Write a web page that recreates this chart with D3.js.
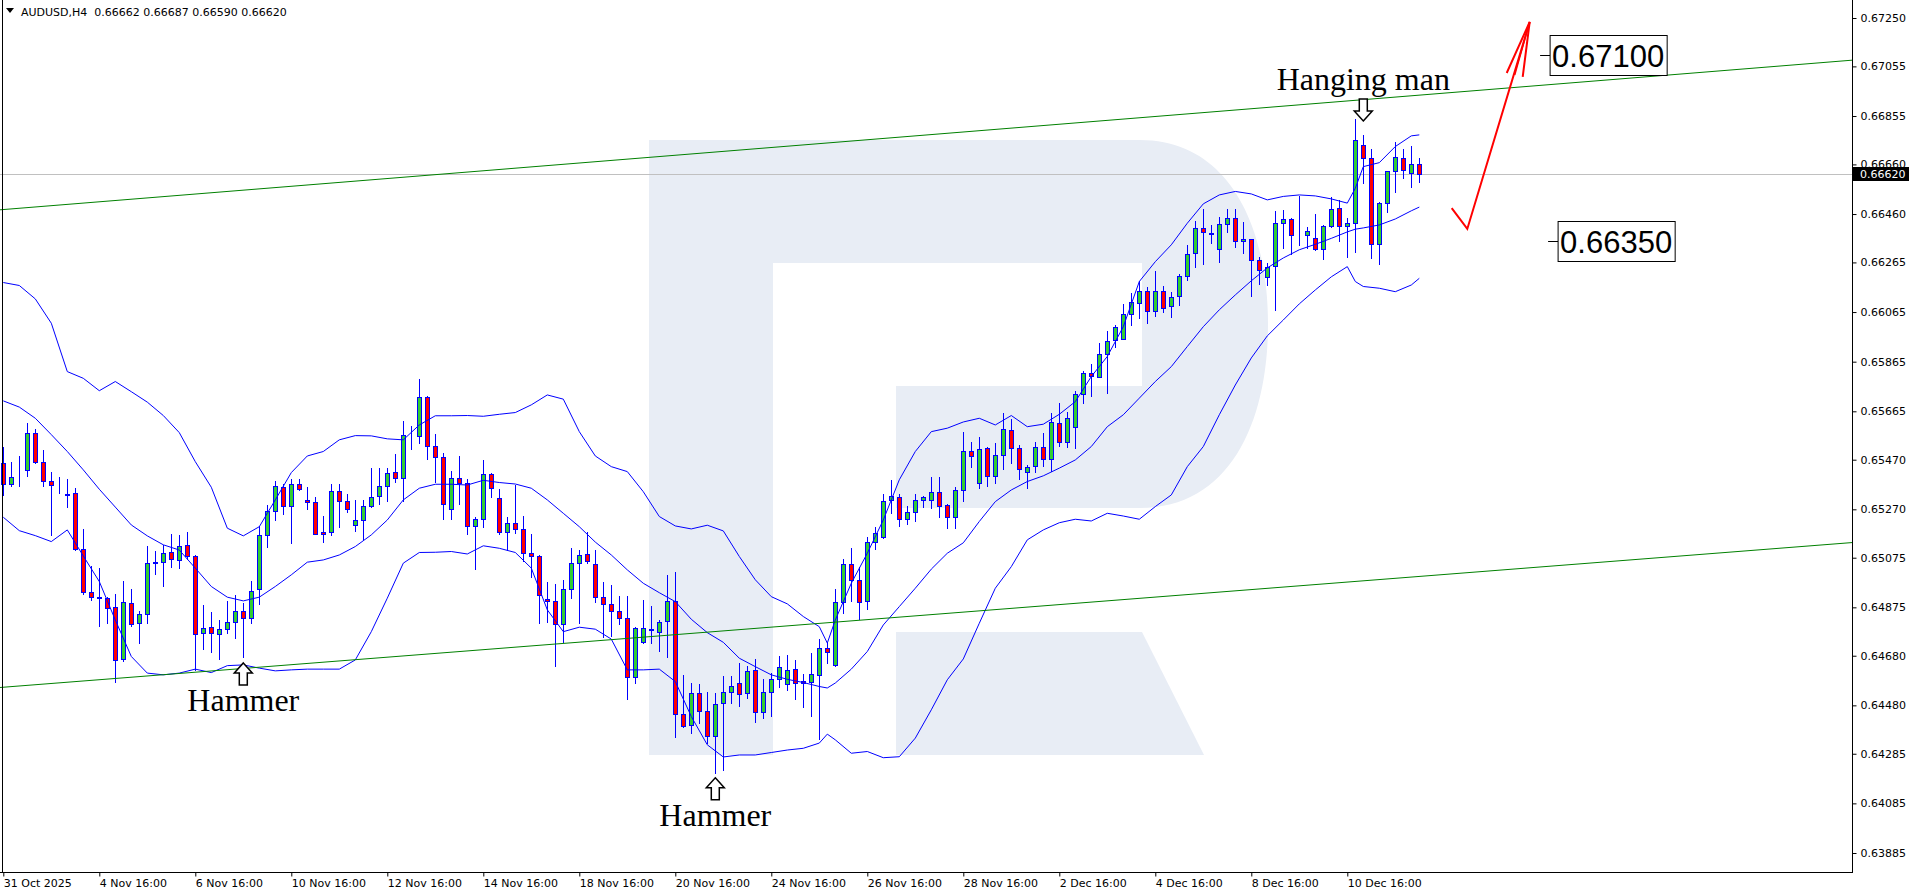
<!DOCTYPE html>
<html><head><meta charset="utf-8">
<script src="https://cdnjs.cloudflare.com/ajax/libs/d3/7.8.5/d3.min.js"></script>
<style>
html,body{margin:0;padding:0;background:#fff;overflow:hidden}
svg{display:block}
text{white-space:pre}
</style></head><body>
<svg id="c" width="1916" height="896"></svg>
<script>
// ---------------- DATA ----------------
const symbolTitle = "AUDUSD,H4  0.66662 0.66687 0.66590 0.66620";
const open = [0.65456,0.65371,0.65427,0.65428,0.65577,0.65460,0.65383,0.65370,0.65330,0.65335,0.65109,0.64938,0.64915,0.64912,0.64876,0.64666,0.64892,0.64810,0.64847,0.65054,0.65057,0.65097,0.65066,0.65125,0.65082,0.64771,0.64795,0.64767,0.64787,0.64815,0.64862,0.64831,0.64948,0.65167,0.65264,0.65360,0.65284,0.65371,0.65308,0.65299,0.65178,0.65178,0.65343,0.65303,0.65206,0.65226,0.65283,0.65323,0.65363,0.65420,0.65395,0.65565,0.65565,0.65722,0.65524,0.65480,0.65270,0.65395,0.65375,0.65203,0.65230,0.65412,0.65315,0.65178,0.65216,0.65190,0.65093,0.65083,0.64910,0.64900,0.64807,0.64948,0.65053,0.65089,0.65049,0.64916,0.64888,0.64859,0.64831,0.64593,0.64734,0.64784,0.64777,0.64819,0.64900,0.64446,0.64401,0.64529,0.64456,0.64357,0.64489,0.64535,0.64569,0.64529,0.64622,0.64455,0.64533,0.64585,0.64565,0.64626,0.64577,0.64576,0.64602,0.64710,0.64642,0.64896,0.65049,0.64984,0.64900,0.65138,0.65158,0.65307,0.65321,0.65230,0.65258,0.65307,0.65307,0.65339,0.65287,0.65238,0.65348,0.65504,0.65375,0.65516,0.65406,0.65488,0.65589,0.65516,0.65420,0.65445,0.65520,0.65472,0.65617,0.65540,0.65603,0.65734,0.65819,0.65805,0.65895,0.65952,0.65956,0.66056,0.66101,0.66149,0.66068,0.66149,0.66089,0.66129,0.66210,0.66302,0.66403,0.66385,0.66318,0.66419,0.66443,0.66352,0.66359,0.66274,0.66205,0.66251,0.66423,0.66439,0.66375,0.66375,0.66363,0.66318,0.66411,0.66484,0.66411,0.66423,0.66739,0.66685,0.66339,0.66504,0.66633,0.66685,0.66625,0.66662];
const high = [0.65520,0.65460,0.65485,0.65618,0.65593,0.65510,0.65421,0.65399,0.65391,0.65355,0.65191,0.65042,0.65035,0.64918,0.64929,0.64982,0.64949,0.64862,0.65123,0.65102,0.65127,0.65171,0.65167,0.65178,0.65086,0.64885,0.64858,0.64824,0.64901,0.64925,0.64894,0.64983,0.65203,0.65288,0.65385,0.65372,0.65391,0.65393,0.65360,0.65321,0.65243,0.65371,0.65371,0.65331,0.65308,0.65308,0.65438,0.65438,0.65438,0.65493,0.65626,0.65607,0.65796,0.65727,0.65574,0.65496,0.65425,0.65484,0.65391,0.65241,0.65469,0.65418,0.65351,0.65241,0.65367,0.65243,0.65170,0.65085,0.64976,0.64969,0.64984,0.65113,0.65106,0.65178,0.65105,0.64976,0.64964,0.64921,0.64921,0.64797,0.64905,0.64881,0.64824,0.65006,0.65017,0.64603,0.64569,0.64566,0.64533,0.64529,0.64599,0.64599,0.64650,0.64640,0.64666,0.64587,0.64610,0.64679,0.64683,0.64663,0.64607,0.64693,0.64747,0.64737,0.64949,0.65070,0.65113,0.65037,0.65158,0.65200,0.65332,0.65389,0.65332,0.65284,0.65332,0.65324,0.65401,0.65401,0.65292,0.65359,0.65581,0.65542,0.65561,0.65523,0.65536,0.65657,0.65633,0.65530,0.65449,0.65540,0.65577,0.65657,0.65698,0.65661,0.65748,0.65829,0.65855,0.65940,0.65989,0.66013,0.66098,0.66141,0.66191,0.66165,0.66231,0.66168,0.66145,0.66219,0.66336,0.66432,0.66480,0.66416,0.66450,0.66480,0.66480,0.66427,0.66360,0.66286,0.66262,0.66474,0.66477,0.66446,0.66533,0.66409,0.66461,0.66416,0.66528,0.66517,0.66443,0.66842,0.66779,0.66721,0.66509,0.66634,0.66750,0.66721,0.66735,0.66687];
const low = [0.65327,0.65366,0.65366,0.65406,0.65457,0.65366,0.65168,0.65337,0.65281,0.65106,0.64929,0.64905,0.64801,0.64813,0.64576,0.64660,0.64800,0.64731,0.64813,0.65010,0.64959,0.65039,0.65033,0.65069,0.64623,0.64706,0.64694,0.64666,0.64771,0.64751,0.64674,0.64813,0.64888,0.65117,0.65225,0.65252,0.65136,0.65348,0.65273,0.65170,0.65140,0.65167,0.65198,0.65261,0.65184,0.65151,0.65280,0.65293,0.65303,0.65380,0.65303,0.65515,0.65536,0.65474,0.65382,0.65230,0.65230,0.65292,0.65170,0.65029,0.65200,0.65321,0.65171,0.65106,0.65174,0.65062,0.64996,0.64811,0.64817,0.64640,0.64734,0.64912,0.64813,0.65055,0.64898,0.64757,0.64761,0.64807,0.64505,0.64569,0.64731,0.64733,0.64701,0.64674,0.64352,0.64394,0.64368,0.64408,0.64328,0.64207,0.64220,0.64489,0.64479,0.64509,0.64414,0.64431,0.64439,0.64553,0.64542,0.64506,0.64475,0.64439,0.64345,0.64652,0.64640,0.64851,0.64902,0.64828,0.64870,0.65112,0.65156,0.65257,0.65204,0.65211,0.65221,0.65281,0.65275,0.65241,0.65194,0.65196,0.65305,0.65440,0.65355,0.65366,0.65378,0.65434,0.65456,0.65394,0.65355,0.65422,0.65446,0.65426,0.65526,0.65523,0.65516,0.65698,0.65728,0.65805,0.65738,0.65926,0.65956,0.66012,0.66043,0.66022,0.66051,0.66067,0.66044,0.66095,0.66195,0.66246,0.66258,0.66345,0.66268,0.66389,0.66329,0.66302,0.66131,0.66178,0.66174,0.66074,0.66325,0.66299,0.66336,0.66325,0.66316,0.66278,0.66409,0.66353,0.66286,0.66309,0.66584,0.66282,0.66259,0.66470,0.66550,0.66605,0.66567,0.66590];
const close = [0.65372,0.65402,0.65429,0.65577,0.65460,0.65383,0.65367,0.65368,0.65326,0.65109,0.64938,0.64916,0.64911,0.64872,0.64662,0.64896,0.64807,0.64847,0.65053,0.65057,0.65093,0.65069,0.65124,0.65082,0.64767,0.64791,0.64771,0.64787,0.64815,0.64862,0.64831,0.64941,0.65167,0.65264,0.65364,0.65284,0.65371,0.65351,0.65299,0.65171,0.65170,0.65343,0.65303,0.65270,0.65226,0.65283,0.65320,0.65363,0.65416,0.65395,0.65569,0.65567,0.65722,0.65524,0.65480,0.65291,0.65395,0.65376,0.65203,0.65230,0.65412,0.65355,0.65180,0.65216,0.65190,0.65093,0.65083,0.64925,0.64900,0.64807,0.64950,0.65053,0.65085,0.65063,0.64916,0.64888,0.64859,0.64831,0.64593,0.64791,0.64791,0.64787,0.64817,0.64900,0.64446,0.64397,0.64529,0.64456,0.64357,0.64485,0.64535,0.64558,0.64525,0.64618,0.64455,0.64533,0.64587,0.64634,0.64622,0.64569,0.64569,0.64606,0.64710,0.64694,0.64896,0.65049,0.64984,0.64896,0.65138,0.65176,0.65305,0.65323,0.65230,0.65258,0.65307,0.65319,0.65339,0.65285,0.65238,0.65347,0.65504,0.65485,0.65512,0.65406,0.65488,0.65593,0.65516,0.65432,0.65442,0.65523,0.65472,0.65621,0.65540,0.65637,0.65734,0.65819,0.65808,0.65895,0.65950,0.66005,0.66056,0.66105,0.66149,0.66068,0.66149,0.66082,0.66125,0.66212,0.66298,0.66403,0.66387,0.66379,0.66419,0.66443,0.66352,0.66359,0.66274,0.66234,0.66248,0.66423,0.66439,0.66375,0.66374,0.66391,0.66318,0.66411,0.66480,0.66411,0.66423,0.66758,0.66685,0.66339,0.66506,0.66633,0.66688,0.66638,0.66661,0.66620];

// Bollinger bands read at these bar indices
const bandIdx = [0,2,4,6,8,10,12,14,16,18,20,22,24,26,28,30,32,34,36,38,40,42,44,46,48,50,52,54,56,58,60,62,64,66,68,70,72,74,76,78,80,82,84,86,88,90,92,94,96,98,100,102,103,104,106,108,110,112,114,116,118,120,122,124,126,128,130,132,134,136,138,140,142,144,146,148,150,152,154,156,158,160,162,164,166,168,169,170,172,174,176,177];
const bandUpper = [0.66184,0.66172,0.66118,0.66020,0.65825,0.65798,0.65748,0.65785,0.65744,0.65702,0.65648,0.65579,0.65462,0.65359,0.65194,0.65163,0.65200,0.65308,0.65418,0.65485,0.65503,0.65550,0.65567,0.65566,0.65554,0.65550,0.65610,0.65647,0.65647,0.65648,0.65645,0.65653,0.65660,0.65691,0.65731,0.65714,0.65583,0.65485,0.65442,0.65422,0.65341,0.65241,0.65203,0.65191,0.65206,0.65183,0.65080,0.64986,0.64918,0.64889,0.64838,0.64797,0.64731,0.64824,0.64972,0.65093,0.65227,0.65389,0.65503,0.65583,0.65597,0.65622,0.65637,0.65610,0.65648,0.65603,0.65613,0.65653,0.65704,0.65805,0.65886,0.66006,0.66188,0.66268,0.66336,0.66423,0.66501,0.66537,0.66551,0.66541,0.66517,0.66531,0.66537,0.66533,0.66521,0.66504,0.66564,0.66651,0.66667,0.66732,0.66775,0.66779];
const bandMiddle = [0.65707,0.65682,0.65637,0.65571,0.65503,0.65429,0.65351,0.65279,0.65207,0.65163,0.65127,0.65106,0.65033,0.64959,0.64916,0.64901,0.64916,0.64959,0.65006,0.65057,0.65066,0.65086,0.65120,0.65167,0.65227,0.65308,0.65355,0.65371,0.65371,0.65368,0.65387,0.65378,0.65372,0.65355,0.65308,0.65254,0.65200,0.65138,0.65086,0.65026,0.64972,0.64934,0.64898,0.64827,0.64773,0.64734,0.64670,0.64636,0.64603,0.64585,0.64572,0.64556,0.64550,0.64570,0.64626,0.64697,0.64804,0.64878,0.64952,0.65029,0.65093,0.65135,0.65221,0.65301,0.65348,0.65382,0.65405,0.65436,0.65469,0.65523,0.65603,0.65651,0.65718,0.65785,0.65845,0.65926,0.66006,0.66074,0.66134,0.66191,0.66243,0.66283,0.66316,0.66338,0.66362,0.66388,0.66399,0.66404,0.66416,0.66440,0.66473,0.66488];
const bandLower = [0.65238,0.65184,0.65164,0.65140,0.65187,0.65082,0.64979,0.64824,0.64677,0.64610,0.64603,0.64610,0.64626,0.64612,0.64640,0.64643,0.64630,0.64619,0.64623,0.64626,0.64626,0.64626,0.64663,0.64777,0.64912,0.65053,0.65096,0.65097,0.65100,0.65090,0.65123,0.65113,0.65096,0.65033,0.64865,0.64777,0.64795,0.64787,0.64747,0.64623,0.64623,0.64626,0.64576,0.64435,0.64321,0.64272,0.64280,0.64280,0.64290,0.64300,0.64307,0.64328,0.64364,0.64341,0.64287,0.64294,0.64269,0.64273,0.64348,0.64462,0.64583,0.64667,0.64811,0.64952,0.65039,0.65147,0.65187,0.65216,0.65230,0.65223,0.65254,0.65243,0.65230,0.65281,0.65328,0.65442,0.65523,0.65651,0.65771,0.65880,0.65969,0.66033,0.66098,0.66154,0.66207,0.66248,0.66188,0.66168,0.66161,0.66147,0.66174,0.66201];

const xTickIdx = [0,12,24,36,48,60,72,84,96,108,120,132,144,156,168];
const xTickLabels = ["31 Oct 2025","4 Nov 16:00","6 Nov 16:00","10 Nov 16:00","12 Nov 16:00","14 Nov 16:00","18 Nov 16:00","20 Nov 16:00","24 Nov 16:00","26 Nov 16:00","28 Nov 16:00","2 Dec 16:00","4 Dec 16:00","8 Dec 16:00","10 Dec 16:00"];
const yTickValues = [0.67250,0.67055,0.66855,0.66660,0.66460,0.66265,0.66065,0.65865,0.65665,0.65470,0.65270,0.65075,0.64875,0.64680,0.64480,0.64285,0.64085,0.63885];
const lastPrice = 0.66620;

// channel lines: [bar index, price]
const channelUpper = [[-0.41,0.66477],[231.1,0.67080]];
const channelLower = [[-0.41,0.64552],[231.1,0.65136]];
// forecast arrow path [bar index, price]
const forecastPath = [[181.05,0.66484],[183.0,0.66400],[190.8,0.67234]];
// target level labels
const targetLevels = [0.67100, 0.66350];
const targetText = ["0.67100","0.66350"];
const targetBar = [192.1, 193.1];
// pattern annotations
const patternText = ["Hanging man","Hammer","Hammer"];
const patternBar = [170, 30, 89];
const patternTextPrice = [0.66960, 0.64458, 0.63994];
const patternArrowPrice = [0.66835, 0.64651, 0.64188];
const patternArrowDir = ["down","up","up"];

// ---------------- DRAW ----------------
const svg = d3.select("#c");
const plotRight = 1852, plotBottom = 872;
const xs = d3.scaleLinear().domain([0, 177]).range([3.3, 1419.3]);
const ys = d3.scaleLinear().domain([0.63885, 0.67250]).range([853, 18]);
const AX = "DejaVu Sans, Verdana, sans-serif";

svg.append("rect").attr("width",1916).attr("height",896).attr("fill","#fff");

svg.append("defs").append("clipPath").attr("id","plot")
  .append("rect").attr("x",0).attr("y",0).attr("width",plotRight).attr("height",plotBottom);
const g = svg.append("g").attr("clip-path","url(#plot)");

// watermark logo
const wm = "#e8edf5";
g.append("path").attr("fill", wm)
  .attr("d","M649,140 H1140 C1228,140 1268,225 1268,324 C1268,425 1228,508 1140,508 H896 V386 H1142 V263 H773 V755 H649 Z");
g.append("path").attr("fill", wm).attr("d","M896,632 H1142 L1204,755 H896 Z");

// current price line
g.append("line").attr("x1",0).attr("x2",plotRight)
  .attr("y1",Math.round(ys(lastPrice))+0.5).attr("y2",Math.round(ys(lastPrice))+0.5)
  .attr("stroke","#c0c0c0").attr("stroke-width",1);

// candles
const crisp = v => Math.round(v) + 0.5;
const cg = g.append("g");
open.forEach((o,i)=>{
  const c = close[i];
  const cx = Math.round(xs(i));
  cg.append("line").attr("x1",cx+0.5).attr("x2",cx+0.5)
    .attr("y1",Math.round(ys(high[i]))).attr("y2",Math.round(ys(low[i]))+1)
    .attr("stroke","#0000ff").attr("stroke-width",1);
  const yt = crisp(ys(Math.max(o,c))), yb = crisp(ys(Math.min(o,c)));
  const fill = c > o ? "#32cd32" : (c < o ? "#ff0000" : "#0000ff");
  cg.append("rect").attr("x",cx-1.5).attr("width",4)
    .attr("y",yt).attr("height",Math.max(0,yb-yt))
    .attr("fill",fill).attr("stroke","#0000ff").attr("stroke-width",1);
});

// bollinger bands
const bandLine = d3.line().x(d=>xs(d[0])).y(d=>ys(d[1]));
[bandUpper, bandMiddle, bandLower].forEach(arr=>{
  g.append("path").datum(bandIdx.map((k,j)=>[k,arr[j]]))
    .attr("d",bandLine).attr("fill","none").attr("stroke","#0000ff").attr("stroke-width",1);
});

// channel lines
[channelUpper, channelLower].forEach(ch=>{
  g.append("line").attr("x1",xs(ch[0][0])).attr("y1",ys(ch[0][1]))
    .attr("x2",xs(ch[1][0])).attr("y2",ys(ch[1][1]))
    .attr("stroke","#008000").attr("stroke-width",1);
});

// forecast arrow
const fp = forecastPath.map(d=>[xs(d[0]),ys(d[1])]);
g.append("path").attr("d",d3.line()(fp)).attr("fill","none")
  .attr("stroke","#ff0000").attr("stroke-width",2).attr("stroke-linejoin","miter");
const tip = fp[fp.length-1];
g.append("path").attr("d",`M${tip[0]-23},${tip[1]+51} L${tip[0]},${tip[1]} L${tip[0]-7},${tip[1]+55}`)
  .attr("fill","none").attr("stroke","#ff0000").attr("stroke-width",2);
g.append("path").attr("d",`M${tip[0]-15},${tip[1]+53} L${tip[0]},${tip[1]}`)
  .attr("fill","none").attr("stroke","#ff0000").attr("stroke-width",1.5);

// target labels
targetLevels.forEach((v,k)=>{
  const y = Math.round(ys(v))+0.5;
  const x0 = xs(targetBar[k]);
  g.append("line").attr("x1",x0).attr("x2",x0+10).attr("y1",y).attr("y2",y).attr("stroke","#000");
  const t = g.append("text").attr("x",x0+12).attr("y",y+11.5)
    .attr("font-family","Liberation Sans, Arial, sans-serif").attr("font-size",31)
    .attr("fill","#000").text(targetText[k]);
  const w = t.node().getComputedTextLength();
  g.insert("rect", () => t.node()).attr("x",x0+10).attr("y",y-20).attr("width",w+5).attr("height",40)
    .attr("fill","#fff").attr("stroke","#000").attr("stroke-width",1);
});

// pattern annotations
patternText.forEach((txt,k)=>{
  const cx = xs(patternBar[k]);
  g.append("text").attr("x",cx).attr("y",ys(patternTextPrice[k]))
    .attr("text-anchor","middle").attr("font-family","Liberation Serif, Times New Roman, serif")
    .attr("font-size",32).attr("fill","#000").text(txt);
  const ty = ys(patternArrowPrice[k]);
  let d;
  if (patternArrowDir[k]==="up") {
    d = `M${cx},${ty} L${cx+9},${ty+10} H${cx+4} V${ty+22} H${cx-4} V${ty+10} H${cx-9} Z`;
  } else {
    d = `M${cx},${ty} L${cx+9},${ty-10} H${cx+4} V${ty-22} H${cx-4} V${ty-10} H${cx-9} Z`;
  }
  g.append("path").attr("d",d).attr("fill","#fff").attr("stroke","#000").attr("stroke-width",1.5);
});

// frame / axes lines
svg.append("line").attr("x1",2.5).attr("x2",2.5).attr("y1",0).attr("y2",plotBottom).attr("stroke","#000");
svg.append("line").attr("x1",plotRight+0.5).attr("x2",plotRight+0.5).attr("y1",0).attr("y2",plotBottom+1).attr("stroke","#000");
svg.append("line").attr("x1",0).attr("x2",plotRight+1).attr("y1",plotBottom+0.5).attr("y2",plotBottom+0.5).attr("stroke","#000");

// right axis
const ra = svg.append("g").attr("transform",`translate(${plotRight+0.5},0)`)
  .call(d3.axisRight(ys).tickValues(yTickValues).tickFormat(d3.format(".5f")).tickSize(4).tickPadding(4));
ra.select(".domain").remove();
ra.selectAll("text").attr("font-family",AX).attr("font-size",11).attr("fill","#000");
ra.selectAll("line").attr("stroke","#000");

// last price tag
const lpY = ys(lastPrice);
svg.append("rect").attr("x",plotRight+1).attr("y",Math.round(lpY)-7).attr("width",56).attr("height",14).attr("fill","#000");
svg.append("text").attr("x",plotRight+8).attr("y",lpY).attr("dy","0.35em")
  .attr("font-family",AX).attr("font-size",11).attr("fill","#fff").text(d3.format(".5f")(lastPrice));

// bottom axis
const bx = d3.scaleLinear().domain(xs.domain()).range(xs.range());
const ba = svg.append("g").attr("transform",`translate(0,${plotBottom+0.5})`)
  .call(d3.axisBottom(bx).tickValues(xTickIdx).tickFormat((d,i)=>xTickLabels[i]).tickSize(4).tickPadding(3));
ba.select(".domain").remove();
ba.selectAll("line").attr("stroke","#000");
ba.selectAll("text").attr("text-anchor","start").attr("font-family",AX).attr("font-size",11).attr("fill","#000");

// title
svg.append("path").attr("d","M6,8 L14,8 L10,13 Z").attr("fill","#000");
svg.append("text").attr("x",21).attr("y",16).attr("font-family",AX).attr("font-size",11)
  .attr("fill","#000").text(symbolTitle);
</script>
</body></html>
